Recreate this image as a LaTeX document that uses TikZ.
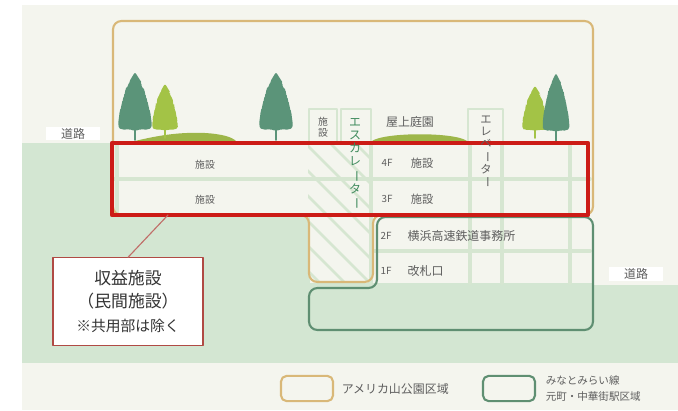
\documentclass[tikz,border=0pt]{standalone}
\usepackage{fontspec}
\setmainfont{Noto Sans CJK JP}
\usetikzlibrary{positioning}

\definecolor{kinari}{HTML}{F4F5EE}
\definecolor{kusa}{HTML}{D3E6D2}
\definecolor{kabeiro}{HTML}{D6E6D1}
\definecolor{koki}{HTML}{5B9479}
\definecolor{usuki}{HTML}{A3C346}
\definecolor{oka}{HTML}{9DB649}
\definecolor{cha}{HTML}{D9B878}
\definecolor{aka}{HTML}{CC1B16}
\definecolor{hakoaka}{HTML}{B04A44}
\definecolor{midori}{HTML}{5F8F72}
\definecolor{haiiro}{HTML}{5E5E5E}
\definecolor{esmidori}{HTML}{3E8A5C}

\newcommand{\bou}{\rotatebox[origin=c]{-90}{ー}}

\begin{document}
\begin{tikzpicture}[x=0.025cm, y=-0.025cm, font=\fontsize{7}{8}\selectfont, line join=round, line cap=round]
	\tikzset{ki/.pic={
			\fill[#1, rounded corners=1.5] (0,-68)--(3,-63)--(5,-60)--(7,-57)--(6,-54)--(10,-50)--(9,-47)--(12,-43)--(11,-40)--(14,-36)--(13,-32)--(16,-28)--(15,-24)--(17,-20)--(16,-16)--(17,-13)--(13,-10)--(6,-11)--(0,-9)--(-6,-11)--(-13,-10)--(-17,-13)--(-16,-17)--(-17,-21)--(-15,-25)--(-16,-29)--(-13,-33)--(-14,-37)--(-11,-41)--(-12,-44)--(-9,-48)--(-10,-51)--(-6,-55)--(-6,-58)--(-3,-63)--cycle;
			\draw[#1, line width=1.3pt] (0,0)--(0,-14);
		},
		kabe/.style={draw=kabeiro, line width=2.6pt},
		moji/.style={text=haiiro, inner sep=1pt},
		douro/.style={moji, fill=white, minimum width=1.35cm, minimum height=0.34cm, font=\fontsize{8.5}{9}\selectfont}
	}
	\useasboundingbox (0,0) rectangle (678,410);
	\fill[white] (0,0) rectangle (678,410);
	\fill[kinari] (22,5) rectangle (678,410);
	% ground and building floors
	\fill[kusa] (22,143) rectangle (678,363);
	\fill[kinari] (592,143) rectangle (678,285);
	\fill[kinari] (112,143) rectangle (592,215);
	\fill[kinari] (310,215) rectangle (592,283);
	% walls
	\draw[kabe] (112,179)--(590,179);
	\draw[kabe] (375,251)--(590,251);
	\draw[kabe] (117,143)--(117,215);
	\foreach \x in {371,470,502,570} \draw[kabe] (\x,143)--(\x,283);
	\draw[kabe, line width=2pt] (309,143)--(309,109)--(337,109)--(337,143);
	\draw[kabe, line width=2pt] (341,143)--(341,109)--(371,109)--(371,143);
	\draw[kabe, line width=2pt] (468,143)--(468,109)--(503,109)--(503,143);
	% escalator hatch
	\begin{scope}
		\clip (308,143) rectangle (372,283);
		\foreach \d in {180,205,...,380} \draw[kabe, line width=2pt] (\d,143)--++(140,140);
	\end{scope}
	% lawn and trees
	\fill[oka] (135,141) .. controls (160,135) and (180,132) .. (205,133) .. controls (222,134) and (232,137) .. (236,141) -- cycle;
	\fill[oka] (372,141) .. controls (385,132) and (455,132) .. (467,141) -- cycle;
	\pic[xscale=0.76, yscale=0.8] at (165,138) {ki=usuki};
	\pic at (135,140) {ki=koki};
	\pic at (276,140) {ki=koki};
	\pic[xscale=0.76, yscale=0.77] at (535,138) {ki=usuki};
	\pic[xscale=0.8] at (556,141) {ki=koki};
	% area outlines
	\draw[cha, line width=1.5pt, rounded corners=6] (113,215)--(113,21)--(593,21)--(593,215)--(373,215)--(373,282)--(309,282)--(309,215)--cycle;
	\draw[midori, line width=1.5pt, rounded corners=6] (377,217)--(593,217)--(593,330)--(309,330)--(309,288)--(377,288)--cycle;
	\draw[aka, line width=3pt] (112,143) rectangle (588,215);
	% labels
	\node[douro] (douro1) at (73,133.5) {道路};
	\node[douro] (douro2) at (636,274) {道路};
	\node[moji] (shisetsuA) at (205,165) {施設};
	\node[moji] (shisetsuB) at (205,200) {施設};
	\node[moji, align=center, font=\fontsize{7}{8}\selectfont] (shisetsuC) at (323,127) {施\\設};
	\node[moji, font=\fontsize{8.5}{9}\selectfont] (okujo) at (410,122) {屋上庭園};
	\node[text=esmidori, inner sep=0, align=center, font=\fontsize{8.5}{9.3}\selectfont] (esca) at (355,164) {エ\\ス\\カ\\レ\\\bou\\タ\\\bou};
	\node[moji, inner sep=0, align=center, font=\fontsize{8}{8.5}\selectfont] (erebe) at (486,152) {エ\\レ\\ベ\\\bou\\タ\\\bou};
	\node[moji] (f4) at (387,163) {4F};
	\node[moji, font=\fontsize{8}{9}\selectfont] (f4s) at (422,163) {施設};
	\node[moji] (f3) at (387,199) {3F};
	\node[moji, font=\fontsize{8}{9}\selectfont] (f3s) at (422,199) {施設};
	\node[moji] (f2) at (386,236) {2F};
	\node[moji, anchor=west, font=\fontsize{8.5}{9}\selectfont] (jimusho) at (406,236) {横浜高速鉄道事務所};
	\node[moji] (f1) at (386,271) {1F};
	\node[moji, anchor=west, font=\fontsize{8.5}{9}\selectfont] (kaisatsu) at (406,271) {改札口};
	% callout
	\node[draw=hakoaka, fill=white, line width=0.8pt, minimum width=3.75cm, minimum height=2.18cm, align=center, text=black!80, font=\fontsize{12}{17}\selectfont] (shueki) at (128,301.5) {収益施設\\（民間施設）\\{\fontsize{10.5}{12}\selectfont ※共用部は除く}};
	\coordinate (yuka) at (168,215);
	\draw[hakoaka!80, line width=0.8pt] (shueki.north)--(yuka);
	% legend
	\node[draw=cha, line width=1.5pt, rounded corners=4pt, minimum width=1.3cm, minimum height=0.63cm] (hanrei1) at (307,388.5) {};
	\node[moji, right=0.15cm of hanrei1, font=\fontsize{8.5}{9}\selectfont] (hanrei1t) {アメリカ山公園区域};
	\node[draw=midori, line width=1.5pt, rounded corners=4pt, minimum width=1.3cm, minimum height=0.63cm] (hanrei2) at (509,388.5) {};
	\node[moji, right=0.2cm of hanrei2, align=left, font=\fontsize{7.5}{11}\selectfont] (hanrei2t) {みなとみらい線\\元町・中華街駅区域};
\end{tikzpicture}
\end{document}
